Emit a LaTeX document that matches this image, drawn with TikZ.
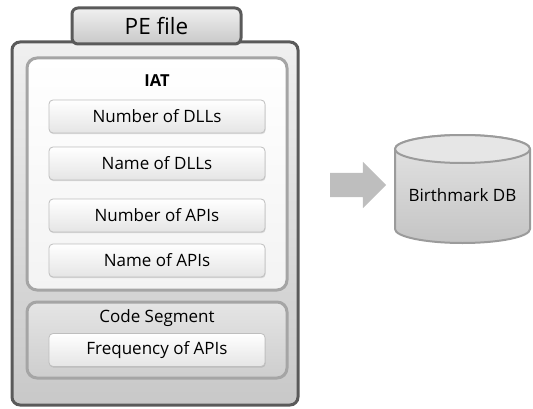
\documentclass[tikz,border=0pt]{standalone}
\usepackage{fontspec}
\setmainfont{Open Sans}
\usepackage{tikz}
\usetikzlibrary{positioning,shapes.arrows,shadows}
\definecolor{peBorder}{RGB}{90, 90, 90}
\definecolor{peLight}{RGB}{240, 240, 240}
\definecolor{peDark}{RGB}{200, 200, 200}
\definecolor{secBorder}{RGB}{165, 165, 165}
\definecolor{itemBorder}{RGB}{190, 190, 190}
\definecolor{arrowGray}{RGB}{190, 190, 190}
\definecolor{dbBorder}{RGB}{155, 155, 155}
\tikzset{
    pebox/.style={draw=peBorder, line width=3pt, rounded corners=8pt,
        top color=peLight, bottom color=peDark, inner sep=0pt},
    secbox/.style={draw=secBorder, line width=3pt, rounded corners=10pt,
        minimum width=260pt, inner sep=0pt},
    itembox/.style={draw=itemBorder, line width=0.8pt, rounded corners=4pt,
        top color=white, bottom color=peLight!90!gray,
        minimum width=216pt, minimum height=33pt, inner sep=0pt,
        font=\fontsize{17}{20}\selectfont,
        drop shadow={opacity=0.25, shadow xshift=0.6pt, shadow yshift=-1.2pt}},
    label/.style={font=\fontsize{17}{20}\selectfont}
}

\begin{document}
\begin{tikzpicture}[x=1pt, y=1pt]
        \useasboundingbox (0,0) rectangle (533,408);
        % Outer PE file frame
        \node[pebox, minimum width=286pt, minimum height=363pt] (pe) at (155,184.5) {};
        % Tab with the title
        \node[pebox, rounded corners=6pt, minimum width=169pt, minimum height=36pt,
            font=\fontsize{22.5}{26}\selectfont] (petab) at (156.5,382) {PE file};
        % IAT section
        \node[secbox, minimum height=232pt, top color=white, bottom color=peLight!80!white] (iat) at (157,234) {};
        \node[label, font=\fontsize{16.5}{19}\selectfont\bfseries] (iatlabel) at (157,327) {IAT};
        \node[itembox] (numdll) at (157,291.5) {Number of DLLs};
        \node[itembox] (namedll) at (157,244.5) {Name of DLLs};
        \node[itembox] (numapi) at (157,192.5) {Number of APIs};
        \node[itembox] (nameapi) at (157,147.5) {Name of APIs};
        % Code segment section
        \node[secbox, minimum height=76pt, top color=peLight!90!gray, bottom color=peDark!90!white] (code) at (157,68) {};
        \node[label] (codelabel) at (157,90) {Code Segment};
        \node[itembox] (freqapi) at (157,58) {Frequency of APIs};
        % Block arrow towards the database
        \node[single arrow, fill=arrowGray, minimum width=46pt, minimum height=56pt,
            single arrow head extend=11pt, inner sep=0pt] (flow) at (352,223) {\rule{0pt}{24pt}};
        % Database cylinder
        \draw[dbBorder, line width=2pt, top color=peLight!70!peDark, bottom color=peDark!95!gray]
            (395,259) -- (395,179) arc[start angle=180, end angle=360, x radius=67.5, y radius=14]
            -- (530,259) arc[start angle=0, end angle=180, x radius=67.5, y radius=14] -- cycle;
        \draw[dbBorder, line width=2pt, fill=peLight!75!peDark] (462.5,259) ellipse[x radius=67.5, y radius=14];
        \node[label] (db) at (462.5,213) {Birthmark DB};
    \end{tikzpicture}
\end{document}
